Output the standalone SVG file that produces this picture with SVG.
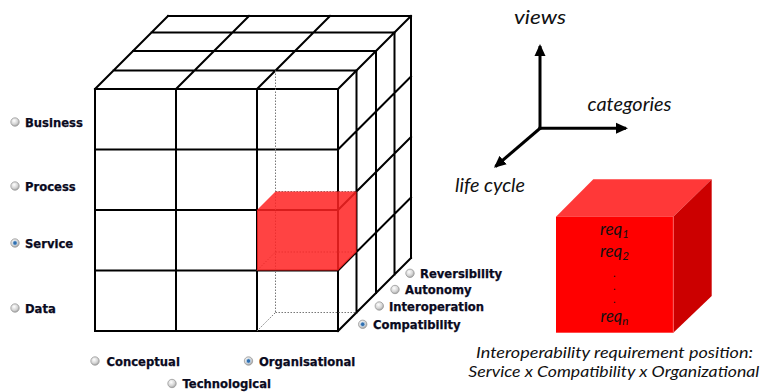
<svg xmlns="http://www.w3.org/2000/svg" width="763" height="392" viewBox="0 0 763 392">
<defs>
<radialGradient id="rg" cx="0.4" cy="0.35" r="0.7">
<stop offset="0" stop-color="#ffffff"/>
<stop offset="0.6" stop-color="#d4d4d4"/>
<stop offset="1" stop-color="#9a9a9a"/>
</radialGradient>
<marker id="ah" markerWidth="12" markerHeight="12" viewBox="0 0 12 12" refX="10" refY="6" orient="auto" markerUnits="userSpaceOnUse">
<path d="M0,0.5 L12,6 L0,11.5 Z" fill="#000"/>
</marker>
<style>
.g{stroke:#000;stroke-width:2;fill:none;stroke-linecap:square}
.dot{stroke:#777;stroke-width:1;stroke-dasharray:1.5 1.5;fill:none}
.lbl{font-family:"DejaVu Sans",Verdana,sans-serif;font-weight:bold;font-size:11.6px;fill:#0a0a1e;stroke:#0a0a1e;stroke-width:0.25}
.rb{fill:url(#rg);stroke:#9a9a9a;stroke-width:0.8}
.sel{fill:#2f6fb0;stroke:#cfe0f0;stroke-width:0.6}
.it{font-family:Lato,"Open Sans",sans-serif;font-style:italic;fill:#111}
.ax{stroke:#000;stroke-width:3;fill:none;marker-end:url(#ah)}
</style>
</defs>

<g id="cube">
<path class="g" d="M95,89 H338 M113.5,70.5 H356.5 M133,51 H376 M151.5,32.5 H394.5 M168,16 H411
M95,89 L168,16 M176,89 L249,16 M257,89 L330,16 M338,89 L411,16"/>
<path class="g" d="M338,89 V331 M356.5,70.5 V312.5 M376,51 V293 M394.5,32.5 V274.5 M411,16 V258
M338,149.5 L411,76.5 M338,210 L411,137 M338,270.5 L411,197.5 M338,331 L411,258"/>
<path class="g" d="M95,89 V331 M176,89 V331 M257,89 V331
M95,149.5 H338 M95,210 H338 M95,270.5 H338 M95,331 H338"/>
<path class="dot" d="M275.5,70.5 V312.5 M275.5,252 H356.5 M275.5,312.5 H356.5 M257,270.5 L275.5,252 M257,331 L275.5,312.5 M275.5,191.5 H356.5"/>
</g>

<g id="selected-cell">
<polygon points="257,210 275.5,191.5 356.5,191.5 356.5,252 338,270.5 257,270.5" fill="#ff2222" fill-opacity="0.85"/>
</g>

<g id="views-labels">
<circle class="rb" cx="15" cy="122" r="4.2"/>
<text class="lbl" x="25" y="127">Business</text>
<circle class="rb" cx="15" cy="186" r="4.2"/>
<text class="lbl" x="25" y="191">Process</text>
<circle class="rb" cx="15" cy="243" r="4.2"/>
<circle class="sel" cx="15" cy="243" r="2.2"/>
<text class="lbl" x="25" y="247.5">Service</text>
<circle class="rb" cx="15" cy="308" r="4.2"/>
<text class="lbl" x="25" y="313">Data</text>
</g>

<g id="lifecycle-labels">
<circle class="rb" cx="95" cy="361" r="4.2"/>
<text class="lbl" x="106.5" y="365.5">Conceptual</text>
<circle class="rb" cx="248.5" cy="361" r="4.2"/>
<circle class="sel" cx="248.5" cy="361" r="2.2"/>
<text class="lbl" x="259" y="365.5">Organisational</text>
<circle class="rb" cx="172" cy="383.5" r="4.2"/>
<text class="lbl" x="182.5" y="388">Technological</text>
</g>

<g id="categories-labels">
<circle class="rb" cx="410" cy="273.3" r="4.2"/>
<text class="lbl" x="420" y="278">Reversibility</text>
<circle class="rb" cx="395" cy="289.5" r="4.2"/>
<text class="lbl" x="405" y="294">Autonomy</text>
<circle class="rb" cx="379.3" cy="306" r="4.2"/>
<text class="lbl" x="389" y="310.5">Interoperation</text>
<circle class="rb" cx="362.7" cy="324.3" r="4.2"/>
<circle class="sel" cx="362.7" cy="324.3" r="2.2"/>
<text class="lbl" x="373" y="328.8">Compatibility</text>
</g>

<g id="connectors">
<line class="ax" x1="540" y1="129.5" x2="540" y2="46"/>
<line class="ax" x1="538.5" y1="128.3" x2="626" y2="128.3"/>
<line class="ax" x1="541" y1="127.5" x2="495.5" y2="166.5"/>
</g>

<g id="axis-labels">
<text class="it" x="514" y="23.5" font-size="19" textLength="52" lengthAdjust="spacingAndGlyphs">views</text>
<text class="it" x="587.5" y="111" font-size="19" textLength="84" lengthAdjust="spacingAndGlyphs">categories</text>
<text class="it" x="455" y="192" font-size="19" textLength="70" lengthAdjust="spacingAndGlyphs">life cycle</text>
</g>

<g id="requirement-cube">
<polygon points="556,216.7 593.3,179.3 711.7,179.3 673.3,216.7" fill="#ff3838"/>
<polygon points="673.3,216.7 711.7,179.3 711.7,296 673.3,332.7" fill="#cc0000"/>
<rect x="556" y="216.7" width="117.3" height="116" fill="#ff0000"/>
<line x1="673.3" y1="216.7" x2="673.3" y2="332.7" stroke="#ff6a6a" stroke-width="0.8"/>
<text class="it" font-size="17" text-anchor="middle"><tspan x="614.5" y="235">req</tspan><tspan font-size="11.5" dy="3">1</tspan><tspan x="614.5" y="257.3">req</tspan><tspan font-size="11.5" dy="3">2</tspan><tspan x="614.5" y="277" font-size="9" font-weight="bold">.</tspan><tspan x="614.5" y="290" font-size="9" font-weight="bold">.</tspan><tspan x="614.5" y="303" font-size="9" font-weight="bold">.</tspan><tspan x="614.5" y="321.7" font-size="16.5">req</tspan><tspan font-size="11.5" dy="3">n</tspan></text>
</g>

<g id="caption">
<text class="it" font-size="15"><tspan x="476" y="358.3" textLength="277" lengthAdjust="spacingAndGlyphs">Interoperability requirement position:</tspan><tspan x="468.3" y="376.7" textLength="291" lengthAdjust="spacingAndGlyphs">Service x Compatibility x Organizational</tspan></text>
</g>
</svg>
